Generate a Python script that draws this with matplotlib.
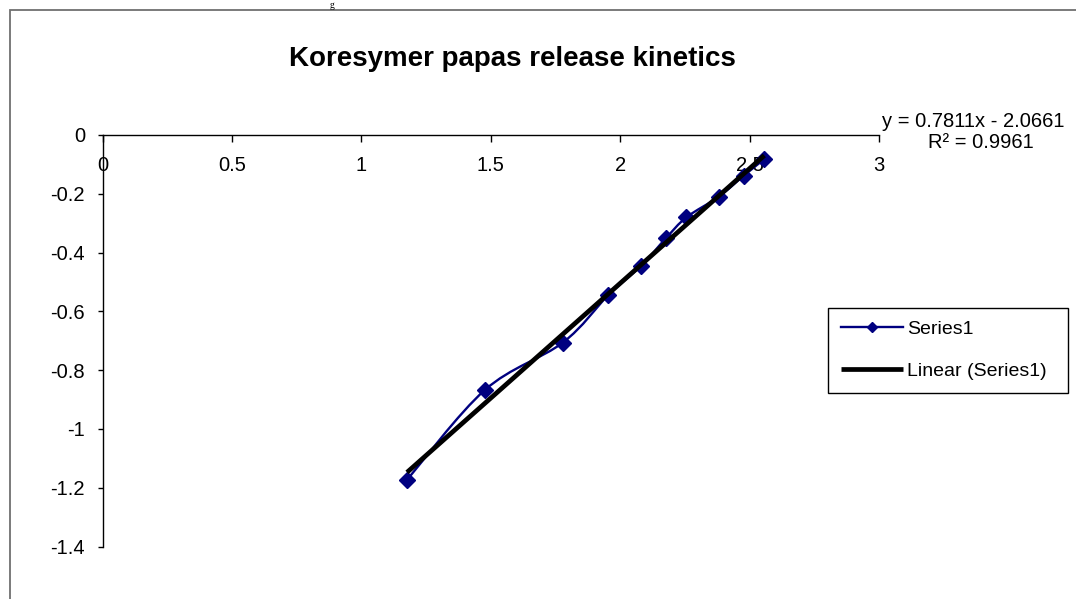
import numpy as np
import matplotlib
matplotlib.use("Agg")
import matplotlib.pyplot as plt
from matplotlib.path import Path
from matplotlib.patches import PathPatch, Rectangle
from matplotlib.lines import Line2D

# log time vs log fraction released
log_t = [1.176, 1.477, 1.778, 1.954, 2.079, 2.176, 2.255, 2.380, 2.477, 2.556]
log_release = [-1.173, -0.867, -0.706, -0.544, -0.446, -0.351, -0.280, -0.210, -0.138, -0.082]

# linear trendline as reported on the chart
slope = 0.7811
intercept = -2.0661
r_squared = 0.9961

x_ticks = [0, 0.5, 1, 1.5, 2, 2.5, 3]
x_tick_labels = ["0", "0.5", "1", "1.5", "2", "2.5", "3"]
y_ticks = [0, -0.2, -0.4, -0.6, -0.8, -1, -1.2, -1.4]
y_tick_labels = ["0", "-0.2", "-0.4", "-0.6", "-0.8", "-1", "-1.2", "-1.4"]

title = "Koresymer papas release kinetics"
series_name = "Series1"
trend_name = "Linear (Series1)"

plt.rcParams["font.family"] = ["Liberation Sans", "DejaVu Sans"]
plt.rcParams["axes.unicode_minus"] = False

W, H = 1076, 599
fig = plt.figure(figsize=(W / 100, H / 100), dpi=100)
ax = fig.add_axes([102.5 / W, 1 - 546.6 / H, (879.3 - 102.5) / W, (546.6 - 135) / H])

navy = "#000080"


def smooth_path(xs, ys):
    # Excel-style smoothed line: cubic Bezier segments through every point
    pts = np.column_stack([xs, ys])
    n = len(pts)
    verts = [pts[0]]
    codes = [Path.MOVETO]
    for i in range(n - 1):
        p0 = pts[i - 1] if i > 0 else pts[i]
        p1 = pts[i]
        p2 = pts[i + 1]
        p3 = pts[i + 2] if i + 2 < n else pts[i + 1]
        verts += [p1 + (p2 - p0) / 6, p2 - (p3 - p1) / 6, p2]
        codes += [Path.CURVE4] * 3
    return Path(verts, codes)


curve = PathPatch(smooth_path(log_t, log_release), facecolor="none",
                  edgecolor=navy, lw=1.7, transform=ax.transData, zorder=3)
ax.add_patch(curve)
ax.plot(log_t, log_release, ls="none", marker="D", ms=8, color=navy, zorder=4)

xt = np.array([min(log_t), max(log_t)])
ax.plot(xt, slope * xt + intercept, color="black", lw=3.4, zorder=5,
        solid_capstyle="butt")

ax.set_xlim(0, 3)
ax.set_ylim(-1.4, 0)
ax.set_xticks(x_ticks)
ax.set_xticklabels(x_tick_labels)
ax.set_yticks(y_ticks)
ax.set_yticklabels(y_tick_labels)

for side in ["top", "right"]:
    ax.spines[side].set_visible(False)
ax.spines["bottom"].set_position(("data", 0))
for side in ["bottom", "left"]:
    ax.spines[side].set_linewidth(1.0)
    ax.spines[side].set_zorder(1)
ax.tick_params(axis="x", direction="out", length=5, width=1, pad=10, labelsize=14.5)
ax.tick_params(axis="y", direction="out", length=3.6, width=1, pad=9, labelsize=14.5)
ax.patch.set_visible(False)

fig.text(512.5 / W, 1 - 66 / H, title, ha="center", va="baseline",
         fontsize=20, fontweight="bold")

fig.text(882 / W, 1 - 127 / H, f"y = {slope}x - {abs(intercept)}",
         ha="left", va="baseline", fontsize=14.5)
fig.text(928 / W, 1 - 148 / H, f"R² = {r_squared}",
         ha="left", va="baseline", fontsize=14.5)

handles = [
    Line2D([], [], color=navy, lw=1.7, marker="D", ms=5.5),
    Line2D([], [], color="black", lw=3.4, solid_capstyle="butt"),
]
leg = ax.legend(handles, [series_name, trend_name], loc="upper left",
                bbox_to_anchor=(828 / W, 1 - 399 / H, 240 / W, 91 / H),
                bbox_transform=fig.transFigure, mode="expand", borderaxespad=0,
                fontsize=14, handlelength=3.2, handletextpad=0.2,
                borderpad=0.65, labelspacing=1.25, fancybox=False,
                framealpha=1, edgecolor="black")
leg.get_frame().set_linewidth(1.0)

# outer chart frame
fig.patches.append(Rectangle((10 / W, -0.1), 1.2, 1.1 - 10 / H,
                             transform=fig.transFigure, fill=False,
                             edgecolor="#707070", lw=1.3))
# stray word end from the surrounding page, above the frame
fig.text(330 / W, 1 - 1 / H, "g", ha="left", va="top", fontsize=7,
         family=["Liberation Serif"])

fig.savefig("out.png", dpi=100)
